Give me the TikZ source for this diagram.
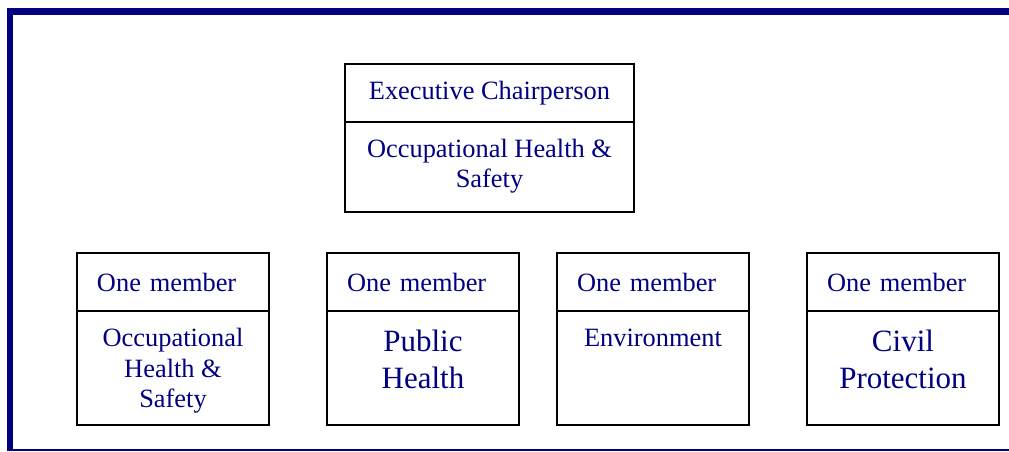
\documentclass[tikz,border=0pt]{standalone}
\usepackage{fontspec}
\setmainfont{Liberation Serif}
\definecolor{navy}{RGB}{0,0,128}
\begin{document}
\begin{tikzpicture}[x=0.5pt,y=-0.5pt,
  box/.style={draw=black, line width=0.9pt, rectangle, inner sep=0pt, outer sep=0pt},
  head/.style={box, minimum width=96pt, minimum height=29pt,
    text=navy, font=\fontsize{13.2}{15.25}\selectfont,
    inner xsep=10pt, inner ysep=0pt, text width=76pt, align=left},
  body/.style={box, minimum width=96pt, minimum height=57pt},
  small/.style={text=navy, font=\fontsize{13.2}{15.25}\selectfont,
    inner sep=0pt, align=center, anchor=north},
  big/.style={text=navy, font=\fontsize{15.5}{18.5}\selectfont,
    inner sep=0pt, align=center, anchor=north},
  rim/.style={draw=navy, line cap=butt}]

\useasboundingbox (0,0) rectangle (1009,451);

% outer frame (open on the right)
\draw[rim, line width=3.5pt] (7,11.5) -- (1009,11.5);
\draw[rim, line width=3pt] (10,8) -- (10,451);
\draw[rim, line width=1pt] (7,450.3) -- (1009,450.3);

% chairperson box
\node[box, minimum width=144.5pt, minimum height=29pt, anchor=north west,
  text=navy, font=\fontsize{13.2}{15.25}\selectfont]
  (chairhead) at (345,64) {Executive Chairperson};
\node[box, minimum width=144.5pt, minimum height=45pt, anchor=north]
  (chairbody) at (chairhead.south) {};
\node[small] (chairtext) at ([yshift=-8.3pt]chairbody.north)
  {Occupational Health \&\\Safety};

% member boxes
\node[head, anchor=north west] (h1) at (77,253) {One member};
\node[body, anchor=north] (b1) at (h1.south) {};
\node[small] (t1) at ([yshift=-8.5pt]b1.north) {Occupational\\Health \&\\Safety};

\node[head, anchor=north west] (h2) at (327,253) {One member};
\node[body, anchor=north] (b2) at (h2.south) {};
\node[big] (t2) at ([yshift=-9.5pt]b2.north) {Public\\Health};

\node[head, anchor=north west] (h3) at (557,253) {One member};
\node[body, anchor=north] (b3) at (h3.south) {};
\node[small] (t3) at ([yshift=-8.7pt]b3.north) {Environment};

\node[head, anchor=north west] (h4) at (807,253) {One member};
\node[body, anchor=north] (b4) at (h4.south) {};
\node[big] (t4) at ([yshift=-9.5pt]b4.north) {Civil\\Protection};
\end{tikzpicture}
\end{document}
